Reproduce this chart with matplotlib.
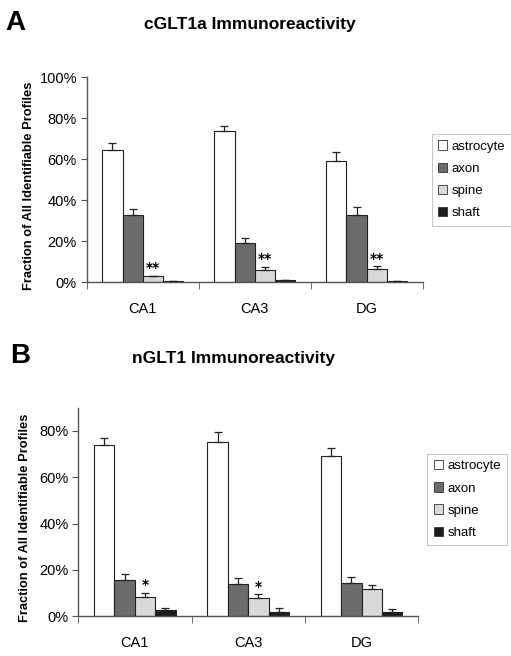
import matplotlib
matplotlib.use("Agg")
import matplotlib.pyplot as plt
import numpy as np
from matplotlib.patches import Patch

regions = ["CA1", "CA3", "DG"]
cell_types = ["astrocyte", "axon", "spine", "shaft"]
colors = ["#ffffff", "#6b6b6b", "#d9d9d9", "#1c1c1c"]

# Panel A: cGLT1a (percent), rows = cell types, columns = regions
a_means = [[64.3, 73.6, 59.3],
           [32.7, 18.9, 33.0],
           [2.8, 5.9, 6.2],
           [0.5, 0.8, 0.3]]
a_err = [[3.7, 2.8, 4.2],
         [3.1, 2.6, 3.8],
         [0.3, 1.6, 1.5],
         [0.1, 0.1, 0.1]]
a_stars = ["**", "**", "**"]

# Panel B: nGLT1 (percent)
b_means = [[73.8, 75.3, 69.2],
           [15.5, 13.9, 14.5],
           [8.3, 7.7, 11.9],
           [2.6, 1.9, 2.0]]
b_err = [[3.2, 4.1, 3.3],
         [2.6, 2.7, 2.6],
         [1.9, 1.8, 1.7],
         [0.8, 1.5, 1.0]]
b_stars = ["*", "*", ""]

plt.rcParams["font.family"] = ["Liberation Sans", "DejaVu Sans"]

fig = plt.figure(figsize=(5.11, 6.56), dpi=100)

axA = fig.add_axes([0.1697, 0.570, 0.827 - 0.1697, 0.882 - 0.570])
axB = fig.add_axes([0.153, 0.0605, 0.8186 - 0.153, 0.3785 - 0.0605])

width = 0.18
offsets = [-0.27, -0.09, 0.09, 0.27]
axis_color = "#555555"


def draw(ax, means, errs, stars, ymax, yticks, legend_pos, labelpad):
    x = np.arange(len(regions))
    handles = []
    for i, ct in enumerate(cell_types):
        ax.bar(x + offsets[i], means[i], width, color=colors[i],
               edgecolor="#222222", linewidth=0.8, zorder=2)
        ax.errorbar(x + offsets[i], means[i],
                    yerr=[np.zeros(len(regions)), errs[i]],
                    fmt="none", ecolor="#222222", elinewidth=0.9,
                    capsize=2.6, capthick=0.9, zorder=3)
        handles.append(Patch(facecolor=colors[i], edgecolor="#333333",
                             linewidth=0.6, label=ct))
    for j, s in enumerate(stars):
        if s:
            top = means[2][j] + errs[2][j]
            ax.text(x[j] + offsets[2], top + ymax * 0.002, s, ha="center",
                    va="bottom", fontsize=10, fontweight="bold",
                    family=["DejaVu Sans"])
    ax.set_xlim(-0.5, 2.5)
    ax.set_ylim(0, ymax)
    ax.set_yticks(yticks)
    ax.set_yticklabels([f"{t}%" for t in yticks], fontsize=10.5)
    ax.set_xticks(x)
    ax.set_xticklabels(regions, fontsize=10.5)
    ax.tick_params(axis="x", which="major", length=0, pad=14)
    ax.set_xticks([-0.5, 0.5, 1.5, 2.5], minor=True)
    ax.tick_params(axis="x", which="minor", length=5, color=axis_color,
                   direction="out")
    ax.tick_params(axis="y", length=4, color=axis_color, direction="out",
                   pad=3)
    for sp in ["top", "right"]:
        ax.spines[sp].set_visible(False)
    for sp in ["left", "bottom"]:
        ax.spines[sp].set_color(axis_color)
        ax.spines[sp].set_linewidth(1.0)
    ax.set_ylabel("Fraction of All Identifiable Profiles", fontsize=9.3,
                  fontweight="bold", labelpad=labelpad)
    ax.yaxis.set_label_coords(labelpad, 0.47)
    leg = ax.legend(handles=handles, loc="center left",
                    bbox_to_anchor=legend_pos, fontsize=9.5,
                    handlelength=0.7, handleheight=0.7, handletextpad=0.3,
                    labelspacing=0.75, borderpad=0.5, borderaxespad=0.3,
                    frameon=True, fancybox=False, edgecolor="#bbbbbb")
    leg.get_frame().set_linewidth(0.8)


draw(axA, a_means, a_err, a_stars, 100, [0, 20, 40, 60, 80, 100],
     (1.015, 0.50), -0.155)
draw(axB, b_means, b_err, b_stars, 90, [0, 20, 40, 60, 80],
     (1.015, 0.56), -0.138)

fig.text(15 / 511, 1 - 23 / 656, "A", fontsize=20, fontweight="bold",
         ha="center", va="center")
fig.text(250 / 511, 1 - 25 / 656, "cGLT1a Immunoreactivity", fontsize=12.5,
         fontweight="bold", ha="center", va="center")
fig.text(20 / 511, 1 - 356 / 656, "B", fontsize=20, fontweight="bold",
         ha="center", va="center")
fig.text(234 / 511, 1 - 359 / 656, "nGLT1 Immunoreactivity", fontsize=12.5,
         fontweight="bold", ha="center", va="center")

fig.savefig("out.png", dpi=100)
